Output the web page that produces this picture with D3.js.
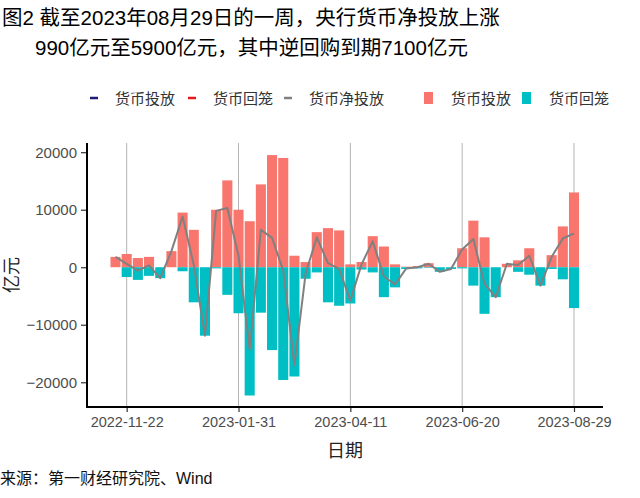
<!DOCTYPE html>
<html><head><meta charset="utf-8">
<script src="https://cdn.jsdelivr.net/npm/d3@7"></script>
<style>
html,body{margin:0;padding:0;background:#fff;}
svg{display:block;font-family:"Liberation Sans","Noto Sans CJK SC",sans-serif;}
</style></head>
<body>
<script>
const dates = ["2022-11-15","2022-11-22","2022-11-29","2022-12-06","2022-12-13","2022-12-20","2022-12-27",
"2023-01-03","2023-01-10","2023-01-17","2023-01-24","2023-01-31","2023-02-07","2023-02-14","2023-02-21",
"2023-02-28","2023-03-07","2023-03-14","2023-03-21","2023-03-28","2023-04-04","2023-04-11","2023-04-18",
"2023-04-25","2023-05-02","2023-05-09","2023-05-16","2023-05-23","2023-05-30","2023-06-06","2023-06-13",
"2023-06-20","2023-06-27","2023-07-04","2023-07-11","2023-07-18","2023-07-25","2023-08-01","2023-08-08",
"2023-08-15","2023-08-22","2023-08-29"];
const injection = [1800,2300,1600,1800,0,2800,9500,6500,0,10000,15100,10000,8000,14400,19500,
19000,2000,900,6100,6800,6400,500,900,5400,3600,500,100,200,700,0,0,
3300,8100,5200,0,600,1200,3300,0,2100,7100,13000];
const withdrawal = [0,-1700,-2200,-1500,-1900,0,-700,-6100,-11900,-200,-4800,-8000,-22300,-7900,-14400,
-19600,-19000,-2000,-900,-6100,-6700,-6300,-400,-900,-5200,-3500,-300,-200,-100,-800,-300,
-200,-3200,-8100,-5200,0,-800,-1300,-3200,-300,-2100,-7100];
const netInjection = [1800,600,-600,300,-1900,2800,8800,400,-11900,9800,10300,2000,-14300,6500,5100,
-600,-17000,-1100,5200,700,-300,-5800,500,4500,-1600,-3000,-200,0,600,-800,-300,
3100,4900,-2900,-5200,600,400,2000,-3200,1800,5000,5900];
const xTickLabels = ["2022-11-22","2023-01-31","2023-04-11","2023-06-20","2023-08-29"];
const yTicks = [20000,10000,0,-10000,-20000];
const titleLines = ["图2 截至2023年08月29日的一周，央行货币净投放上涨","990亿元至5900亿元，其中逆回购到期7100亿元"];
const legendLines = [{name:"货币投放",color:"#1b1b7a"},{name:"货币回笼",color:"#e41a1c"},{name:"货币净投放",color:"#808080"}];
const legendBars = [{name:"货币投放",color:"#F8766D"},{name:"货币回笼",color:"#00BFC4"}];

const W = 640, H = 498;
const parse = d3.utcParse("%Y-%m-%d");
const data = dates.map((d,i)=>({date:parse(d),inj:injection[i],wd:withdrawal[i],net:netInjection[i]}));

const svg = d3.select("body").append("svg").attr("width",W).attr("height",H);
const pl = 87, pr = 603, pt = 143, pb = 407;

const x = d3.scaleUtc().domain([parse(dates[0]), parse(dates[dates.length-1])]).range([115.5, 574]);
const y = d3.scaleLinear().domain([-24300, 21600]).range([pb, pt]);
const bw = 0.9*(x(parse(dates[1]))-x(parse(dates[0])));

// title
svg.append("text").attr("x",2).attr("y",25).attr("font-size",20.5).attr("fill","#000").text(titleLines[0]);
svg.append("text").attr("x",35).attr("y",55).attr("font-size",20.5).attr("fill","#000").text(titleLines[1]);

// gridlines
const xt = xTickLabels.map(parse);
svg.append("g").selectAll("line").data(xt).join("line")
  .attr("x1",d=>x(d)).attr("x2",d=>x(d)).attr("y1",pt).attr("y2",pb)
  .attr("stroke","#b3b3b3").attr("stroke-width",1);

// bars
svg.append("g").selectAll("rect").data(data).join("rect")
  .attr("x",d=>x(d.date)-bw/2).attr("width",bw)
  .attr("y",d=>y(Math.max(0,d.inj))).attr("height",d=>Math.abs(y(d.inj)-y(0)))
  .attr("fill","#F8766D");
svg.append("g").selectAll("rect").data(data).join("rect")
  .attr("x",d=>x(d.date)-bw/2).attr("width",bw)
  .attr("y",y(0)).attr("height",d=>Math.abs(y(d.wd)-y(0)))
  .attr("fill","#00BFC4");

// net line
svg.append("path").datum(data)
  .attr("d",d3.line().x(d=>x(d.date)).y(d=>y(d.net)))
  .attr("fill","none").attr("stroke","#808080").attr("stroke-width",2).attr("stroke-linejoin","round");

// axes
const yAxis = svg.append("g").attr("transform",`translate(${pl},0)`)
  .call(d3.axisLeft(y).tickValues(yTicks).tickSize(6).tickPadding(4).tickFormat(d3.format("d")));
yAxis.select(".domain").remove();
yAxis.selectAll("line").attr("stroke","#333").attr("stroke-width",1.2);
yAxis.selectAll("text").attr("font-size",15).attr("fill","#4d4d4d").attr("font-family","Liberation Sans, sans-serif");
svg.append("line").attr("x1",pl).attr("x2",pl).attr("y1",pt).attr("y2",pb+1).attr("stroke","#000").attr("stroke-width",2);

const xAxis = svg.append("g").attr("transform",`translate(0,${pb})`)
  .call(d3.axisBottom(x).tickValues(xt).tickSize(5).tickPadding(5).tickFormat(d3.utcFormat("%Y-%m-%d")));
xAxis.select(".domain").remove();
xAxis.selectAll("line").attr("stroke","#333").attr("stroke-width",1.2);
xAxis.selectAll("text").attr("font-size",14.5).attr("fill","#4d4d4d").attr("font-family","Liberation Sans, sans-serif");
svg.append("line").attr("x1",pl-1).attr("x2",pr).attr("y1",pb).attr("y2",pb).attr("stroke","#000").attr("stroke-width",2);

// axis titles
svg.append("text").attr("x",(pl+pr)/2).attr("y",457).attr("text-anchor","middle").attr("font-size",18).attr("fill","#222").text("日期");
svg.append("text").attr("transform",`translate(18,${(pt+pb)/2}) rotate(-90)`).attr("text-anchor","middle").attr("font-size",18).attr("fill","#222").text("亿元");

// source
svg.append("text").attr("x",0).attr("y",484).attr("font-size",16).attr("fill","#111").text("来源：第一财经研究院、Wind");

// legend
const ly = 98;
const lgL = svg.append("g");
const lineX = [90, 188, 284];
legendLines.forEach((d,i)=>{
  lgL.append("line").attr("x1",lineX[i]).attr("x2",lineX[i]+8).attr("y1",ly).attr("y2",ly).attr("stroke",d.color).attr("stroke-width",2.5);
  lgL.append("text").attr("x",lineX[i]+25).attr("y",ly+5.5).attr("font-size",15).attr("fill","#333").text(d.name);
});
const sqX = [424, 522];
legendBars.forEach((d,i)=>{
  lgL.append("rect").attr("x",sqX[i]).attr("y",ly-6).attr("width",9).attr("height",12).attr("fill",d.color);
  lgL.append("text").attr("x",sqX[i]+27).attr("y",ly+5.5).attr("font-size",15).attr("fill","#333").text(d.name);
});
</script>
</body></html>
